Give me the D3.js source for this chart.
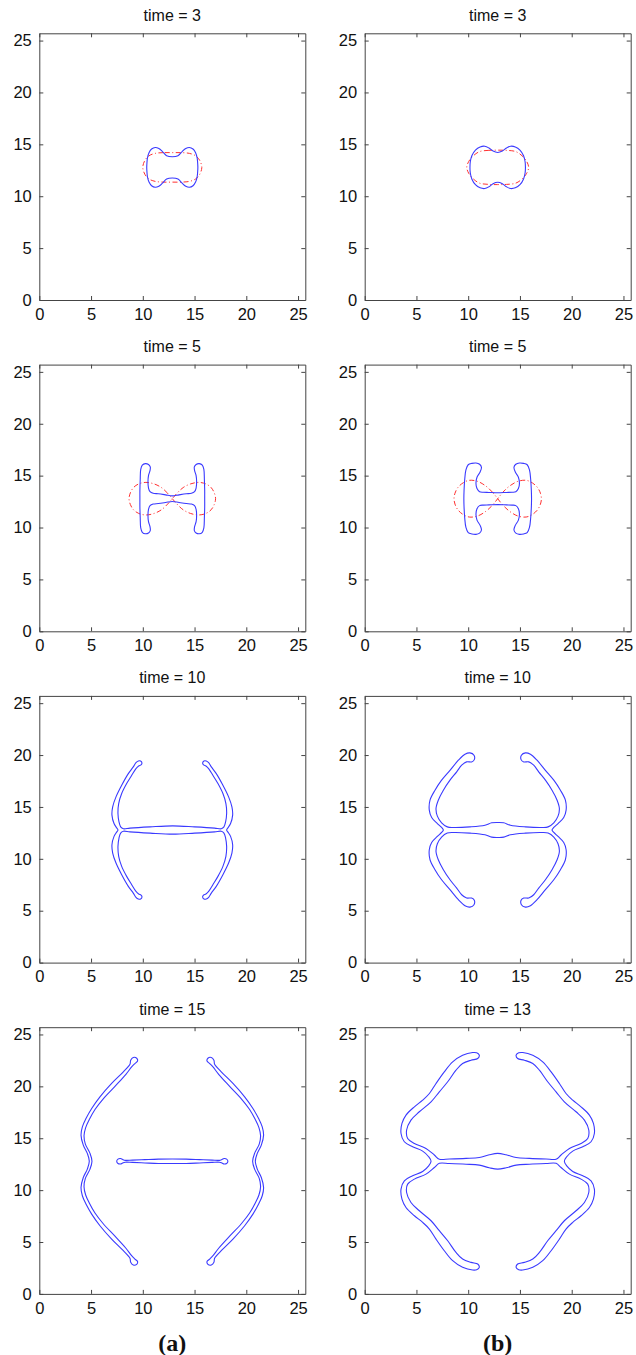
<!DOCTYPE html>
<html>
<head>
<meta charset="utf-8">
<script src="https://cdn.jsdelivr.net/npm/d3@7"></script>
<style>
    body { margin: 0; background: #fff; }
    .tick text, .panel-title { font-family: "Liberation Sans", Arial, Helvetica, sans-serif; }
    .panel-label { font-family: "Liberation Serif", "Times New Roman", serif; font-weight: bold; }
</style>
</head>
<body>
<div id="chart"></div>
<script>

// ---- data (in domain units) ----

const timesA = [3, 5, 10, 15];
const timesB = [3, 5, 10, 13];
const panelLabels = ["(a)", "(b)"];
const tickValues = [0, 5, 10, 15, 20, 25];
const domainMax = 25.7;

// symmetry centre of the film (shapes are symmetric about x = CX and y = CY)
const CX = 12.85, CY = 12.78;

// upper-left quarter of each closed outline, from top centre to left middle
const blueA3 = [[12.85, 13.8], [12.3, 13.9], [11.9, 14.3], [11.55, 14.6], [11.2, 14.7], [10.85, 14.55],
    [10.6, 14.2], [10.45, 13.7], [10.4, 13.2], [10.38, 12.78]];
const redA3 = [[12.85, 14.2], [12.0, 14.2], [11.2, 14.13], [10.6, 13.9], [10.2, 13.45], [10.0, 12.78]];

const blueB3 = [[12.85, 14.22], [12.4, 14.35], [12.0, 14.65], [11.6, 14.82], [11.15, 14.75], [10.7, 14.45],
    [10.35, 13.9], [10.2, 13.3], [10.17, 12.78]];
const redB3 = [[12.85, 14.44], [12.0, 14.42], [11.1, 14.3], [10.5, 13.9], [10.05, 13.35], [9.86, 12.78]];

const blueA5 = [[12.85, 13.05], [12.2, 13.15], [11.5, 13.25], [11.0, 13.3], [10.7, 13.45], [10.55, 13.8],
    [10.5, 14.4], [10.55, 15.0], [10.7, 15.5], [10.72, 15.85], [10.55, 16.08], [10.25, 16.16], [9.95, 16.02],
    [9.8, 15.6], [9.75, 14.6], [9.72, 13.6], [9.72, 12.78]];
// figure-eight: quarter from the crossing point to the leftmost point
const redA5 = [[12.85, 12.78], [12.4, 13.3], [11.8, 13.85], [11.1, 14.2], [10.3, 14.35], [9.6, 14.2],
    [9.1, 13.85], [8.8, 13.35], [8.67, 12.78]];

const blueB5 = [[12.85, 13.35], [12.0, 13.38], [11.45, 13.4], [11.1, 13.45], [10.85, 13.75], [10.75, 14.25],
    [10.85, 14.85], [11.15, 15.35], [11.28, 15.8], [11.1, 16.1], [10.75, 16.22], [10.35, 16.18], [10.0, 16.05],
    [9.78, 15.55], [9.66, 14.6], [9.6, 13.6], [9.58, 12.78]];
const redB5 = [[12.85, 12.78], [12.35, 13.4], [11.7, 14.0], [10.9, 14.45], [10.1, 14.55], [9.5, 14.3],
    [9.0, 13.85], [8.72, 13.3], [8.63, 12.78]];

const blueA10 = [[12.89, 13.18], [10.7, 13.08], [8.76, 12.96], [8.12, 12.9], [7.86, 13.08], [7.7, 13.56],
    [7.6, 14.36], [7.67, 15.32], [7.96, 16.29], [8.44, 17.25], [8.93, 18.05], [9.34, 18.7], [9.6, 18.95],
    [9.83, 19.05], [9.92, 19.24], [9.79, 19.43], [9.57, 19.43], [9.34, 19.27], [9.08, 18.86], [8.6, 18.21],
    [7.96, 17.09], [7.41, 15.97], [7.09, 15.01], [7.02, 14.21], [7.22, 13.4], [7.47, 12.99], [7.6, 12.78]];

const blueB10 = [[12.88, 13.5], [12.27, 13.47], [11.62, 13.24], [10.17, 13.08], [8.56, 13.02], [7.98, 13.08],
    [7.43, 13.47], [7.02, 14.11], [6.89, 14.85], [7.11, 15.65], [7.6, 16.61], [8.24, 17.58], [8.89, 18.38],
    [9.37, 19.02], [9.85, 19.34], [10.33, 19.34], [10.59, 19.56], [10.56, 19.98], [10.17, 20.21], [9.69, 20.08],
    [9.05, 19.5], [8.24, 18.53], [7.43, 17.58], [6.79, 16.61], [6.31, 15.65], [6.24, 14.69], [6.47, 13.98],
    [7.02, 13.4], [7.43, 13.02], [7.6, 12.78]];

// time 15 (a): a thin bar in the middle plus two side arcs
const barA15 = [[12.85, 13.0], [11.5, 12.99], [10.2, 12.94], [9.0, 12.89], [8.3, 12.87], [8.05, 12.95],
    [7.85, 13.04], [7.6, 12.99], [7.48, 12.78]];
// upper half of the left arc: outer neck -> tip -> inner neck
const arcA15 = [[4.83, 12.78], [4.64, 13.54], [4.25, 14.34], [4.03, 15.3], [4.16, 16.1], [4.51, 16.9],
    [5.06, 17.87], [5.86, 18.99], [6.99, 20.28], [8.12, 21.4], [8.76, 22.13], [8.83, 22.52], [9.08, 22.78],
    [9.41, 22.71], [9.5, 22.45], [9.24, 22.2], [8.92, 21.87], [8.37, 21.16], [7.31, 20.0], [6.18, 18.8],
    [5.38, 17.77], [4.83, 16.8], [4.48, 16.03], [4.32, 15.23], [4.45, 14.43], [4.9, 13.54], [5.09, 12.78]];

const blueB13 = [[12.85, 13.54], [12.04, 13.41], [11.07, 13.15], [9.79, 13.06], [8.18, 13.0], [7.21, 12.98],
    [6.73, 13.38], [5.92, 14.02], [4.8, 14.5], [4.15, 14.98], [4.05, 15.79], [4.47, 16.75], [5.28, 17.55],
    [6.41, 18.51], [7.21, 19.47], [8.02, 20.44], [8.82, 21.56], [9.46, 22.2], [10.27, 22.52], [10.92, 22.68],
    [11.07, 23.0], [10.82, 23.23], [10.43, 23.26], [9.46, 23.0], [8.5, 22.36], [7.69, 21.4], [6.89, 20.28],
    [6.25, 19.31], [5.6, 18.67], [4.8, 18.03], [3.99, 17.23], [3.6, 16.43], [3.51, 15.46], [3.83, 14.66],
    [4.63, 14.18], [5.6, 13.76], [6.18, 13.22], [6.41, 12.78]];


// ---- helpers: complete an outline from its symmetric part ----

const mirX = p => [2 * CX - p[0], p[1]];
const mirY = p => [p[0], 2 * CY - p[1]];
const mirXY = p => mirX(mirY(p));

// quarter (top centre -> left middle) to closed outline
function fourFold(q) {
    return q
        .concat(q.slice(0, -1).reverse().map(mirY))
        .concat(q.slice(1).map(mirXY))
        .concat(q.slice(1, -1).reverse().map(mirX));
}

// quarter (crossing -> leftmost) to closed figure eight
function figureEight(q) {
    return q
        .concat(q.slice(0, -1).reverse().map(mirY))
        .concat(q.slice(1).map(mirX))
        .concat(q.slice(1, -1).reverse().map(mirXY));
}

// upper half to closed outline (mirror about y = CY)
function twoFold(h) {
    return h.concat(h.slice(1, -1).reverse().map(mirY));
}

const leftArc = twoFold(arcA15);

const panels = [
    {col: 0, row: 0, time: timesA[0], blue: [fourFold(blueA3)], red: [fourFold(redA3)]},
    {col: 1, row: 0, time: timesB[0], blue: [fourFold(blueB3)], red: [fourFold(redB3)]},
    {col: 0, row: 1, time: timesA[1], blue: [fourFold(blueA5)], red: [figureEight(redA5)]},
    {col: 1, row: 1, time: timesB[1], blue: [fourFold(blueB5)], red: [figureEight(redB5)]},
    {col: 0, row: 2, time: timesA[2], blue: [fourFold(blueA10)], red: []},
    {col: 1, row: 2, time: timesB[2], blue: [fourFold(blueB10)], red: []},
    {col: 0, row: 3, time: timesA[3], blue: [fourFold(barA15), leftArc, leftArc.map(mirX)], red: []},
    {col: 1, row: 3, time: timesB[3], blue: [fourFold(blueB13)], red: []}
];


// ---- drawing ----

const width = 636, height = 1355;
const colX = [39.3, 364.7];
const axW = 266, axH = 266.7;
const rowTop = r => 33.3 + r * 331.3;

const svg = d3.select("#chart").append("svg")
    .attr("width", width)
    .attr("height", height);

const x = d3.scaleLinear().domain([0, domainMax]).range([0, axW]);
const y = d3.scaleLinear().domain([0, domainMax]).range([axH, 0]);

const line = d3.line()
    .x(d => x(d[0]))
    .y(d => y(d[1]))
    .curve(d3.curveCatmullRomClosed.alpha(0.5));

panels.forEach((p, i) => {
    let g = svg.append("g")
        .attr("transform", `translate(${colX[p.col]}, ${rowTop(p.row)})`);

    g.append("clipPath").attr("id", "clip" + i)
        .append("rect").attr("width", axW).attr("height", axH);

    let plot = g.append("g").attr("clip-path", `url(#clip${i})`);

    plot.selectAll(".red")
        .data(p.red)
        .enter().append("path")
        .attr("class", "red")
        .attr("d", line)
        .attr("fill", "none")
        .attr("stroke", "#ff3030")
        .attr("stroke-width", 1)
        .attr("stroke-dasharray", "5,2.5,1,2.5");

    plot.selectAll(".blue")
        .data(p.blue)
        .enter().append("path")
        .attr("class", "blue")
        .attr("d", line)
        .attr("fill", "none")
        .attr("stroke", "#3a3aff")
        .attr("stroke-width", 1.1);

    // box with inward ticks (labels on bottom and left only)
    let axes = [
        {axis: d3.axisBottom(x), t: `translate(0, ${axH})`, labels: true, pad: 8},
        {axis: d3.axisLeft(y), t: "", labels: true, pad: 7.5},
        {axis: d3.axisTop(x), t: "", labels: false, pad: 0},
        {axis: d3.axisRight(y), t: `translate(${axW}, 0)`, labels: false, pad: 0}
    ];
    axes.forEach(a => {
        a.axis.tickValues(tickValues).tickSizeInner(-4).tickSizeOuter(0).tickPadding(a.pad);
        if (!a.labels) a.axis.tickFormat("");
        let ag = g.append("g").attr("transform", a.t).call(a.axis);
        ag.select(".domain").attr("stroke", "#444").attr("stroke-width", 1);
        ag.selectAll(".tick line").attr("stroke", "#444");
        ag.selectAll(".tick text").attr("fill", "#111").style("font-size", "16.5px");
    });

    g.append("text")
        .attr("class", "panel-title")
        .attr("x", axW / 2)
        .attr("y", -12.5)
        .attr("text-anchor", "middle")
        .style("font-size", "16px")
        .attr("fill", "#111")
        .text(`time = ${p.time}`);
});

// column labels
svg.selectAll(".panel-label")
    .data(panelLabels)
    .enter().append("text")
    .attr("class", "panel-label")
    .attr("x", (d, i) => colX[i] + axW / 2)
    .attr("y", 1351)
    .attr("text-anchor", "middle")
    .style("font-size", "24px")
    .attr("fill", "#111")
    .text(d => d);

</script>
</body>
</html>
